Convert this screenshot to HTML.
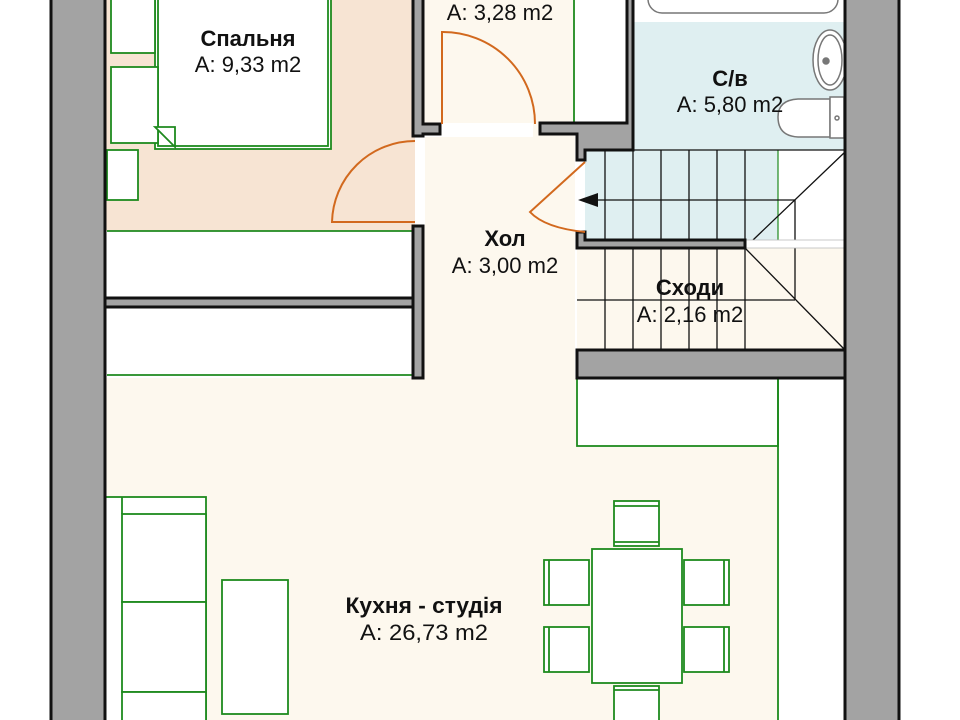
<!DOCTYPE html>
<html><head><meta charset="utf-8"><style>
html,body{margin:0;padding:0;background:#fff;width:960px;height:720px;overflow:hidden}
svg{display:block}
text{font-family:"Liberation Sans",Arial,sans-serif;fill:#111;text-anchor:middle}
.b{font-weight:bold;font-size:22px}
.n{font-size:22px}
</style></head><body>
<svg width="960" height="720" viewBox="0 0 960 720" xmlns="http://www.w3.org/2000/svg">
<!-- floors -->
<rect x="105" y="0" width="310" height="231" fill="#f7e4d3"/>
<rect x="105" y="231" width="310" height="147" fill="#fff"/>
<rect x="423" y="0" width="152" height="380" fill="#fdf8ee"/>
<rect x="575" y="0" width="52" height="122" fill="#fff"/>
<rect x="633" y="0" width="212" height="150" fill="#dfeff1"/>
<rect x="633" y="0" width="212" height="22" fill="#fff"/>
<rect x="585" y="150" width="193" height="90" fill="#dfeff1"/>
<rect x="778" y="150" width="67" height="90" fill="#fff"/>
<rect x="577" y="248" width="268" height="102" fill="#fdf8ee"/>
<rect x="105" y="378" width="740" height="342" fill="#fdf8ee"/>
<rect x="778" y="378" width="67" height="342" fill="#fff"/>
<rect x="415" y="135" width="10" height="90" fill="#fff"/>
<rect x="423" y="123" width="110" height="14" fill="#fff"/>
<rect x="577" y="160" width="8" height="72" fill="#fff"/>

<!-- furniture -->
<g fill="#fff" stroke="#1e8a1e" stroke-width="1.8">
<rect x="155" y="-5" width="176" height="154"/>
<rect x="158" y="-5" width="170" height="151" fill="none"/>
<rect x="111" y="-5" width="44" height="58"/>
<rect x="111" y="67" width="47" height="76"/>
<rect x="107" y="150" width="31" height="50"/>
<path d="M155 127 H175 V147 Z" fill="#fff"/>
<line x1="107" y1="231" x2="415" y2="231"/>
<line x1="107" y1="375" x2="413" y2="375"/>
<line x1="574" y1="0" x2="574" y2="122"/>
<rect x="577" y="378" width="201" height="68"/>
<line x1="778" y1="378" x2="778" y2="720"/>
<line x1="778" y1="150" x2="778" y2="240" stroke-width="1.2"/>
<rect x="105" y="497" width="101" height="240"/>
<rect x="122" y="514" width="84" height="88"/>
<rect x="122" y="602" width="84" height="90"/>
<rect x="122" y="692" width="84" height="40"/>
<line x1="122" y1="497" x2="122" y2="514"/>
<rect x="222" y="580" width="66" height="134"/>
<rect x="592" y="549" width="90" height="134"/>
<rect x="614" y="501" width="45" height="45"/><line x1="614" y1="506" x2="659" y2="506"/><line x1="614" y1="542" x2="659" y2="542"/>
<rect x="614" y="686" width="45" height="40"/><line x1="614" y1="690" x2="659" y2="690"/>
<rect x="544" y="560" width="45" height="45"/><line x1="549" y1="560" x2="549" y2="605"/>
<rect x="544" y="627" width="45" height="45"/><line x1="549" y1="627" x2="549" y2="672"/>
<rect x="684" y="560" width="45" height="45"/><line x1="724" y1="560" x2="724" y2="605"/>
<rect x="684" y="627" width="45" height="45"/><line x1="724" y1="627" x2="724" y2="672"/>
</g>

<!-- stairs -->
<g stroke="#111" stroke-width="1.3" fill="none">
<line x1="585" y1="150" x2="845" y2="150"/>
<path d="M605 150V240 M633 150V240 M661 150V240 M689 150V240 M717 150V240 M745 150V240"/>
<path d="M605 248V350 M633 248V350 M661 248V350 M689 248V350 M717 248V350 M745 248V350"/>
<line x1="597" y1="200" x2="795" y2="200"/>
<line x1="577" y1="300" x2="795" y2="300"/>
<line x1="795" y1="200" x2="795" y2="300"/>
<line x1="845" y1="152" x2="753" y2="240"/>
<line x1="745" y1="248" x2="845" y2="350"/>
</g>
<rect x="745" y="240" width="100" height="8" fill="#fff" stroke="#bbb" stroke-width="0.8"/>
<polygon points="578,200 598,193 598,207" fill="#111"/>

<!-- bathroom fixtures -->
<g stroke="#777" stroke-width="1.5" fill="#fff">
<rect x="648" y="-20" width="190" height="33" rx="14"/>
<ellipse cx="830" cy="60" rx="17" ry="30"/>
<ellipse cx="830" cy="60" rx="12" ry="25"/>
<path d="M830 99 H798 Q778 100 778 117 Q778 136 798 137 H830 Z"/>
<rect x="830" y="97" width="14" height="41"/>
<circle cx="826" cy="61" r="3" fill="#777"/>
<circle cx="837" cy="118" r="2"/>
</g>

<!-- walls -->
<g fill="#a3a3a3" stroke="#111" stroke-width="3">
<rect x="51" y="-5" width="54" height="730"/>
<rect x="845" y="-5" width="54" height="730"/>
<rect x="105" y="298" width="313" height="9"/>
<path d="M413 -5 H423 V124 H440 V134 H423 V136 H413 Z"/>
<rect x="413" y="226" width="10" height="152"/>
<path d="M540 123 H627 V-5 H633 V150 H585 V160 H577 V134 H540 Z"/>
<path d="M577 232 H585 V240 H745 V248 H577 Z"/>
<rect x="577" y="350" width="268" height="28"/>
</g>

<!-- doors -->
<g stroke="#d2691e" stroke-width="2" fill="none">
<path d="M415 222 H332 A83 83 0 0 1 415 141"/>
<path d="M442 124 V32 A92 92 0 0 1 535 124"/>
<path d="M585 162 L530 212 Q545 228 585 232"/>
</g>

<!-- labels -->
<text class="b" x="248" y="46">Спальня</text>
<text class="n" x="248" y="72">A: 9,33 m2</text>
<text class="n" x="500" y="20">A: 3,28 m2</text>
<text class="b" x="730" y="86">С/в</text>
<text class="n" x="730" y="112">A: 5,80 m2</text>
<text class="b" x="505" y="246">Хол</text>
<text class="n" x="505" y="273">A: 3,00 m2</text>
<text class="b" x="690" y="295">Сходи</text>
<text class="n" x="690" y="322">A: 2,16 m2</text>
<text class="b" x="424" y="613" font-size="21" textLength="157" lengthAdjust="spacingAndGlyphs">Кухня - студія</text>
<text class="n" x="424" y="640" font-size="21" textLength="128" lengthAdjust="spacingAndGlyphs">A: 26,73 m2</text>
</svg>
</body></html>
